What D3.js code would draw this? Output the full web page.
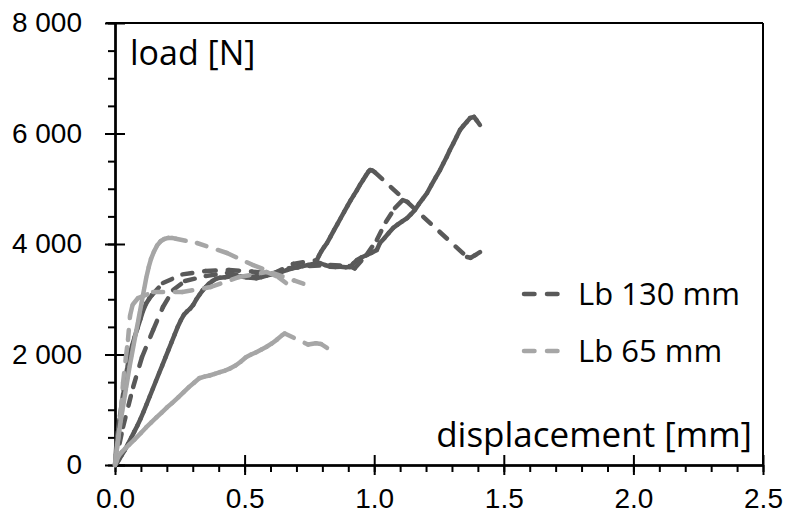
<!DOCTYPE html>
<html>
<head>
<meta charset="utf-8">
<script src="https://cdn.jsdelivr.net/npm/d3@7"></script>
<style>
body { margin: 0; background: #fff; }
svg { display: block; font-family: "Open Sans", sans-serif; }
.axis path, .axis line { stroke: #000; stroke-width: 2; }
.axis text { font-size: 28px; fill: #000; }
</style>
</head>
<body>
<svg width="786" height="523"></svg>
<script>
var xTicks = [0, 0.5, 1, 1.5, 2, 2.5];
var yTicks = [0, 2000, 4000, 6000, 8000];
var seriesNames = ["Lb 130 mm", "Lb 65 mm"];

// Lb 130 mm tests: [displacement mm, load N]
var lb130a = [[0,0],[0.003,200],[0.006,420],[0.012,650],[0.019,880],[0.026,1110],[0.033,1340],[0.040,1560],[0.048,1780],[0.057,2000],[0.066,2160],[0.076,2320],[0.087,2480],[0.098,2640],[0.108,2790],[0.12,2920],[0.132,3010],[0.143,3077],
	[0.185,3294],[0.26,3450],[0.35,3510],[0.44,3530],[0.53,3500],[0.61,3460],[0.687,3640],[0.779,3710],
	[0.787,3790],[0.795,3860],[0.806,3940],[0.818,4018],[0.831,4130],[0.845,4250],[0.858,4360],[0.871,4470],[0.884,4580],[0.897,4690],[0.909,4790],[0.921,4880],[0.933,4970],[0.945,5070],[0.957,5158],[0.968,5240],[0.978,5310],[0.984,5339],[0.993,5330],[1.002,5300],
	[1.358,3765],[1.372,3750],[1.39,3800],[1.408,3855]];
var lb130b = [[0,0],[0.008,40],[0.016,100],[0.026,180],[0.038,270],[0.05,380],[0.062,490],[0.074,600],[0.086,710],[0.098,830],[0.11,960],[0.122,1100],[0.134,1240],[0.146,1380],[0.158,1520],[0.17,1660],[0.182,1800],[0.194,1940],[0.206,2080],[0.218,2220],[0.23,2360],[0.242,2500],[0.254,2620],[0.266,2720],[0.278,2780],[0.29,2830],[0.302,2900],[0.314,3000],[0.326,3080],[0.338,3160],[0.35,3220],[0.362,3280],[0.376,3330],[0.39,3370],[0.405,3390],[0.425,3400],[0.445,3410],[0.465,3400],[0.485,3410],[0.505,3400],[0.525,3390],[0.545,3380],[0.565,3400],[0.585,3430],[0.605,3450],[0.625,3470],[0.645,3500],[0.665,3530],[0.685,3560],[0.705,3580],[0.725,3600],[0.745,3620],[0.765,3640],[0.79,3656],[0.81,3620],[0.83,3590],[0.85,3584],[0.87,3590],[0.89,3580],[0.907,3584],[0.92,3650],[0.934,3710],[0.952,3760],[0.972,3800],[0.99,3840],[1.01,3891],[1.022,4018],[1.04,4110],[1.056,4200],[1.073,4290],[1.09,4350],[1.108,4410],[1.127,4470],[1.142,4540],[1.157,4615],[1.172,4720],[1.188,4820],[1.204,4923],[1.22,5060],[1.237,5200],[1.254,5339],[1.267,5460],[1.28,5580],[1.292,5701],[1.305,5820],[1.318,5940],[1.331,6063],[1.344,6140],[1.357,6210],[1.37,6280],[1.385,6300],[1.395,6240],[1.408,6154]];
var lb130c = [[0,0],[0.031,688],[0.07,1412],[0.104,1950],[0.147,2443],[0.185,2860],[0.224,3167],[0.27,3330],[0.35,3420],[0.432,3475],[0.51,3400],[0.59,3440],[0.67,3560],[0.75,3600],[0.83,3620],[0.905,3600],[0.925,3560],[0.97,3800],[1.01,4072],[1.045,4400],[1.08,4651],[1.11,4796],[1.13,4760]];

// Lb 65 mm tests
var lb65a = [[0,0],[0.005,200],[0.010,400],[0.016,600],[0.022,800],[0.029,1000],[0.036,1200],[0.043,1400],[0.050,1600],[0.057,1800],[0.065,2000],[0.073,2200],[0.081,2400],[0.089,2600],[0.097,2800],[0.105,3000],[0.113,3200],[0.121,3400],[0.13,3580],[0.139,3730],[0.15,3860],[0.162,3970],[0.176,4050],[0.19,4090],[0.205,4110],[0.22,4110],[0.235,4095],
	[0.316,4018],[0.432,3837],[0.532,3620],[0.61,3475],[0.69,3340],[0.764,3222]];
var lb65b = [[0,0],[0.006,250],[0.012,452],[0.023,995],[0.031,1484],[0.042,1950],[0.05,2262],[0.058,2700],[0.068,2900],[0.089,3022],[0.147,3131],[0.26,3131],[0.37,3222],[0.48,3403],[0.585,3493],[0.63,3400],[0.66,3294]];
var lb65c = [[0,0],[0.006,70],[0.012,145],[0.025,230],[0.04,300],[0.055,370],[0.075,460],[0.1,580],[0.12,680],[0.14,770],[0.16,860],[0.18,950],[0.2,1040],[0.22,1120],[0.245,1230],[0.265,1320],[0.285,1410],[0.305,1490],[0.325,1570],[0.345,1600],[0.365,1620],[0.385,1650],[0.405,1680],[0.425,1710],[0.445,1750],[0.465,1800],[0.485,1870],[0.505,1950],[0.525,2000],[0.545,2040],[0.565,2090],[0.585,2140],[0.605,2200],[0.625,2270],[0.645,2350],[0.655,2380],
	[0.745,2180],[0.775,2205],[0.795,2190],[0.818,2118]];

var dark = "#595959", light = "#a6a6a6";

var svg = d3.select("svg");
var margin = { top: 23, right: 23, bottom: 58, left: 115 },
	width = 786 - margin.left - margin.right,
	height = 523 - margin.top - margin.bottom;

var g = svg.append("g").attr("transform", "translate(" + margin.left + "," + margin.top + ")");

var x = d3.scaleLinear().domain([0, 2.5]).range([0, width]);
var y = d3.scaleLinear().domain([0, 8000]).range([height, 0]);

var fmt = d3.formatLocale({ decimal: ".", thousands: " ", grouping: [3], currency: ["", ""] }).format(",");

// minor ticks (outside)
g.append("g").attr("class", "axis")
	.call(d3.axisLeft(y).tickValues(d3.range(0, 8001, 500)).tickSize(7).tickSizeOuter(0).tickFormat(""));
g.append("g").attr("class", "axis").attr("transform", "translate(0," + height + ")")
	.call(d3.axisBottom(x).tickValues(d3.range(0, 26).map(function(i) { return i / 10; })).tickSize(7).tickSizeOuter(0).tickFormat(""));

// major ticks crossing the axis
g.append("g").attr("class", "axis")
	.call(d3.axisLeft(y).tickValues(yTicks).tickSize(10).tickSizeOuter(0).tickPadding(23).tickFormat(fmt));
g.append("g").attr("class", "axis")
	.call(d3.axisRight(y).tickValues(yTicks).tickSize(10).tickSizeOuter(0).tickFormat(""));
g.append("g").attr("class", "axis").attr("transform", "translate(0," + height + ")")
	.call(d3.axisBottom(x).tickValues(xTicks).tickSize(10).tickSizeOuter(0).tickPadding(13).tickFormat(d3.format(".1f")));
g.append("g").attr("class", "axis").attr("transform", "translate(0," + height + ")")
	.call(d3.axisTop(x).tickValues(xTicks).tickSize(10).tickSizeOuter(0).tickFormat(""));

// frame top and right
g.append("line").attr("x1", -9).attr("x2", width).attr("y1", 0).attr("y2", 0)
	.attr("stroke", "#000").attr("stroke-width", 2);
g.append("line").attr("x1", width).attr("x2", width).attr("y1", 0).attr("y2", height)
	.attr("stroke", "#000").attr("stroke-width", 2);

// each segment gets its own dash pattern, like the spreadsheet did
function drawCurve(points, color) {
	g.append("g").selectAll("line")
		.data(d3.pairs(points))
		.join("line")
		.attr("x1", function(d) { return x(d[0][0]); })
		.attr("y1", function(d) { return y(d[0][1]); })
		.attr("x2", function(d) { return x(d[1][0]); })
		.attr("y2", function(d) { return y(d[1][1]); })
		.attr("stroke", color)
		.attr("stroke-width", 4.5)
		.attr("stroke-linecap", "round")
		.attr("stroke-dasharray", "10,12");
}

[lb130a, lb130b, lb130c].forEach(function(s) { drawCurve(s, dark); });
[lb65a, lb65b, lb65c].forEach(function(s) { drawCurve(s, light); });

// axis titles inside the plot
g.append("text").attr("x", 15).attr("y", 42)
	.style("font-size", "34px").text("load [N]");
g.append("text").attr("x", width - 11).attr("y", 424)
	.style("font-size", "35px").style("text-anchor", "end").text("displacement [mm]");

// legend
var legend = g.selectAll(".legend").data(seriesNames).join("g")
	.attr("class", "legend")
	.attr("transform", function(d, i) { return "translate(409," + (271 + i * 57) + ")"; });
legend.append("line")
	.attr("x1", 0).attr("x2", 46).attr("y1", 0).attr("y2", 0)
	.attr("stroke", function(d, i) { return i === 0 ? dark : light; })
	.attr("stroke-width", 4.5)
	.attr("stroke-linecap", "round")
	.attr("stroke-dasharray", "10.5,12.5");
legend.append("text").attr("x", 54).attr("y", 11)
	.style("font-size", "31px").text(function(d) { return d; });
</script>
</body>
</html>
